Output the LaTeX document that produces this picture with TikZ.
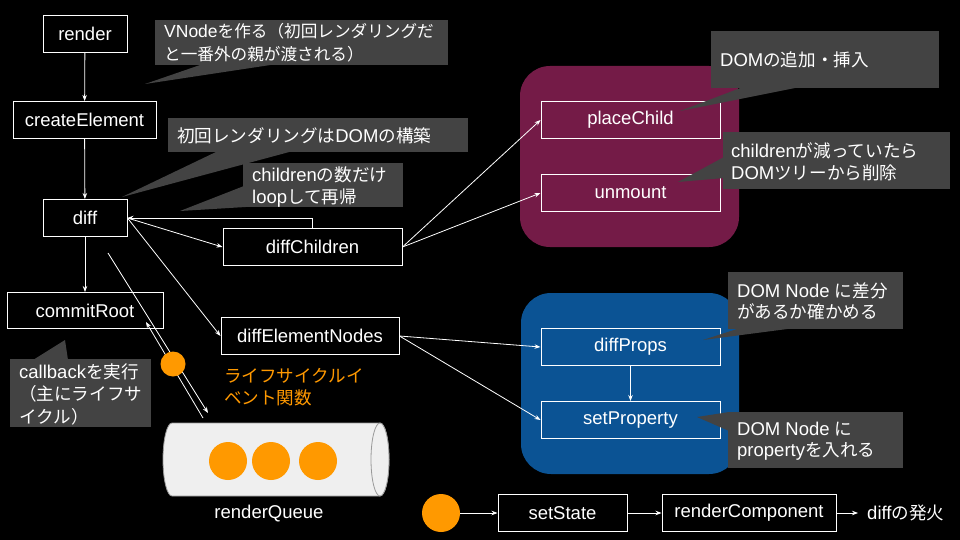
\documentclass[tikz,border=0pt]{standalone}
\usepackage{fontspec}
\setmainfont{Liberation Sans}
\newfontfamily\jp[Scale=0.95]{Noto Sans CJK JP}
\usetikzlibrary{arrows.meta}
\definecolor{callgray}{HTML}{434343}
\definecolor{magbg}{HTML}{741B47}
\definecolor{bluebg}{HTML}{0B5394}
\definecolor{orng}{HTML}{FF9900}
\definecolor{cylfill}{HTML}{EFEFEF}
\definecolor{cylline}{HTML}{999999}
\begin{document}
\begin{tikzpicture}[x=1pt,y=-1pt,
  box/.style={draw=white, line width=1pt, text=white, font=\fontsize{18.5}{22}\selectfont, inner sep=0pt, minimum height=37pt},
  conn/.style={draw=white, line width=0.8pt, -{Stealth[length=6pt,width=4.5pt]}},
  callout/.style={fill=callgray},
  ctext/.style={text=white, align=left, anchor=west, inner sep=0pt, font=\fontsize{18.5}{21.5}\selectfont},
  dot/.style={circle, fill=orng, inner sep=0pt}
]
\fill[black] (0,0) rectangle (960,540);
\useasboundingbox (0,0) rectangle (960,540);

% group backgrounds
\fill[magbg, rounded corners=30pt] (520,66) rectangle (739,247);
\fill[bluebg, rounded corners=30pt] (521,293) rectangle (739,474);

% boxes
\node[box, minimum width=84pt] (render) at (85,34) {render};
\node[box, minimum width=143pt] (createElement) at (84.5,120) {createElement};
\node[box, minimum width=84pt] (diff) at (85,218) {diff};
\node[box, minimum width=179pt] (diffChildren) at (312.5,247) {diffChildren};
\node[box, minimum width=156pt, minimum height=36pt] (commitRoot) at (85,310.5) {commitRoot};
\node[box, minimum width=178pt] (diffElementNodes) at (310,336) {diffElementNodes};
\node[box, minimum width=179pt] (placeChild) at (630.5,120) {placeChild};
\node[box, minimum width=179pt] (unmount) at (630.5,193) {unmount};
\node[box, minimum width=179pt] (diffProps) at (630.5,347) {diffProps};
\node[box, minimum width=179pt] (setProperty) at (630.5,420) {setProperty};
\node[box, minimum width=129pt] (setState) at (562.5,513) {setState};
\node[box, minimum width=174pt] (renderComponent) at (749,513) {renderComponent};

% renderQueue cylinder
\filldraw[fill=cylfill, draw=cylline, line width=0.8pt]
  (172,423) -- (380,423) arc[start angle=90, end angle=-90, x radius=9pt, y radius=36.5pt]
  -- (172,496) arc[start angle=270, end angle=90, x radius=9pt, y radius=36.5pt] -- cycle;
\filldraw[fill=cylfill, draw=cylline, line width=0.8pt] (380,459.5) ellipse[x radius=9pt, y radius=36.5pt];
\node[dot, minimum size=38pt] (q1) at (228,461) {};
\node[dot, minimum size=38pt] (q2) at (271,461) {};
\node[dot, minimum size=38pt] (q3) at (318,461) {};
\node[text=white, font=\fontsize{18.5}{22}\selectfont] (rqlabel) at (269,514) {renderQueue};

% connectors
\draw[conn] (render) -- (createElement);
\draw[conn] (createElement) -- (diff);
\draw[conn] (diff) -- (commitRoot);
\draw[conn] (diffChildren.north) |- (diff.east);
\draw[conn] (diff.east) -- (diffChildren.west);
\draw[conn] (diff.east) -- (diffElementNodes.west);
\draw[conn] (diffChildren.east) -- (placeChild.west);
\draw[conn] (diffChildren.east) -- (unmount.west);
\draw[conn] (diffElementNodes.east) -- (diffProps.west);
\draw[conn] (diffElementNodes.east) -- (setProperty.west);
\draw[conn] (diffProps) -- (setProperty);

\coordinate (lcA1) at (108,253);
\coordinate (lcA2) at (208,413);
\coordinate (lcB1) at (203,418);
\coordinate (lcB2) at (146,322);
\draw[conn] (lcA1) -- (lcA2);
\draw[conn] (lcB1) -- (lcB2);
\node[dot, minimum size=25pt] (lifedot) at (173,364) {};
\node[ctext, text=orng] (lifetext) at (224,387) {{\jp ライフサイクルイ}\\{\jp ベント関数}};

\node[dot, minimum size=38pt] (trigger) at (441,513) {};
\coordinate (fireend) at (858,513);
\draw[conn] (trigger) -- (setState);
\draw[conn] (setState) -- (renderComponent);
\draw[conn] (renderComponent) -- (fireend);
\node[ctext] (firetext) at (867,513) {diff{\jp の発火}};

% callouts
\fill[callout] (155,20) rectangle (448,65);
\fill[callout] (203,64) -- (277,64) -- (145,84) -- cycle;
\node[ctext, font=\fontsize{17.5}{22.5}\selectfont] (c1) at (164,42.5) {VNode{\jp を作る（初回レンダリングだ}\\{\jp と一番外の親が渡される）}};

\fill[callout] (168,118) rectangle (468,152);
\fill[callout] (218,151) -- (293,151) -- (122,197) -- cycle;
\node[ctext] (c2) at (177,136) {{\jp 初回レンダリングは}DOM{\jp の構築}};

\fill[callout] (243,163) rectangle (403,207);
\fill[callout] (244,186) -- (262,206) -- (180,211) -- cycle;
\node[ctext] (c3) at (252,187) {children{\jp の数だけ}\\loop{\jp して再帰}};

\fill[callout] (711,31) rectangle (939,88);
\fill[callout] (743,87) -- (800,87) -- (680,111) -- cycle;
\node[ctext] (c4) at (720,59.5) {DOM{\jp の追加・挿入}};

\fill[callout] (723,132) rectangle (950,189);
\fill[callout] (724,157) -- (724,178) -- (678,182) -- cycle;
\node[ctext] (c5) at (731,162) {children{\jp が減っていたら}\\DOM{\jp ツリーから削除}};

\fill[callout] (728,272) rectangle (903,329);
\fill[callout] (740,328) -- (795,328) -- (703,340) -- cycle;
\node[ctext] (c6) at (737,301.5) {DOM Node {\jp に差分}\\{\jp があるか確かめる}};

\fill[callout] (728,412) rectangle (903,468);
\fill[callout] (729,412) -- (729,431) -- (697,417) -- cycle;
\node[ctext] (c7) at (737,441) {DOM Node {\jp に}\\property{\jp を入れる}};

\fill[callout] (10,359) rectangle (151,427);
\fill[callout] (33,360) -- (68,360) -- (65,340) -- cycle;
\node[ctext, font=\fontsize{18.5}{22.5}\selectfont] (c8) at (19,394) {callback{\jp を実行}\\{\jp （主にライフサ}\\{\jp イクル）}};
\end{tikzpicture}
\end{document}
